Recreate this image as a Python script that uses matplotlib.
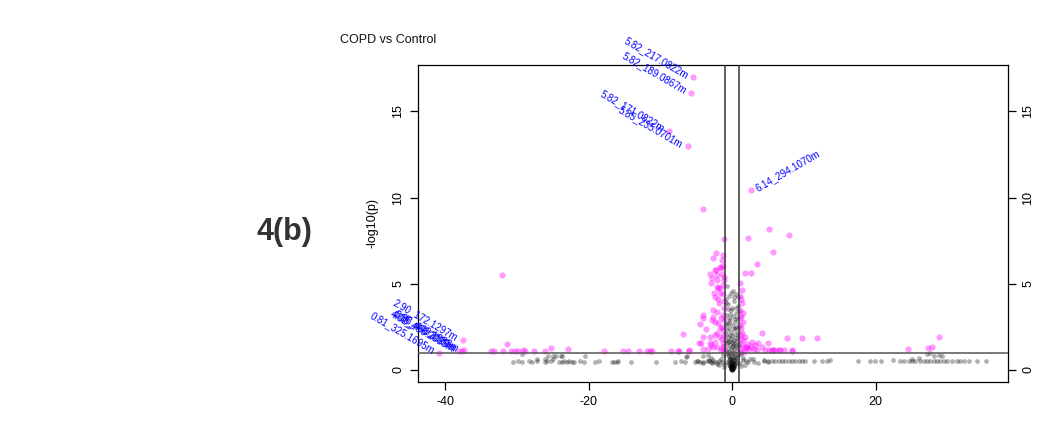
import matplotlib.pyplot as plt
import numpy as np

plt.rcParams["font.family"] = ["Liberation Sans", "DejaVu Sans"]
plt.rcParams["axes.unicode_minus"] = False

# log2 fold change / -log10(p) for features below the significance cut
ns_x = [
    # flat band on the left
    -30.5, -29.9, -29.3, -28.3, -27.9, -27.2, -26.1, -25.8, -25.2, -24.1,
    -23.7, -23.4, -23.0, -22.7, -22.3, -22.0, -21.2, -20.7, -19.1, -18.6,
    -16.8, -16.5, -15.9, -14.1, -10.6, -7.9, -7.1, -6.5, -4.9, -4.5,
    -4.0, -3.5, -3.0, -29.3, -25.6, -24.5, -23.8, -20.5, -6.3, -27.2,
    -26.1, -25.0, -25.0, -6.4, -23.75, -16.0, -5.2, -4.8, -4.1, -3.2,
    -2.85, -2.5, -2.15, -1.8, -1.45, -4.0, -3.4, -3.0,
    # flat band on the right
    4.37, 4.93, 5.53, 6.0, 6.46, 6.93, 7.39, 7.86, 8.33, 8.79,
    9.25, 9.72, 10.18, 11.34, 12.5, 13.2, 13.67, 17.5, 19.15, 19.94,
    20.74, 22.4, 23.43, 24.0, 24.6, 25.06, 25.52, 26.2, 26.7, 27.15,
    27.6, 28.1, 28.55, 29.0, 29.5, 29.9, 30.6, 31.3, 31.8, 32.3,
    32.96, 34.1, 35.4, 27.1, 27.6, 28.1, 28.8, 29.2, 25.06, 26.0,
    1.5, 2.2, 2.9, 3.6, 4.4, 5.0,
    # centre of the volcano
    -0.75, 0.1, -0.4, 0.6, -0.8, 0.3,
    -0.6, 0.8, -0.2, 0.5, -0.85, 0.1, -0.5, 0.9, 0.7,
    -0.3, 0.4, -0.7, 0.0, 0.6, -0.5, 0.2, -0.1, 0.8, -0.8, 0.35, -0.35,
    0.0, -0.6, 0.55, -0.2, 0.25, -0.45, 0.7, 0.05, -0.75, 0.4,
    -0.3, 0.15, -0.05, 0.85, -0.55, 0.3, -0.15, 0.6, -0.4, 0.1,
    -0.2, 0.45, -0.6, 0.0, 0.25, -0.35, 0.7, -0.1, 0.15, -0.5,
    0.35, 0.0, -0.25, 0.55, -0.05, 0.2, -0.4, 0.1, -0.15, 0.3,
    0.0, -0.3, 0.15, -0.1, 0.05, 0.25, -0.2, 0.0, 0.1, -0.05,
    0.05, 0.0, -0.1, 0.12, 0.0, -0.02, 0.03, -0.08, 0.18, -0.15,
    1.2, -1.3, 1.5, -1.6, 2.0, -2.1, 1.1, -1.1, 2.5, -2.6,
    3.0, -3.2, 1.8, -1.8, 1.3, -1.2,
    -0.9, 0.9, -0.65, 0.75, -0.45, 0.5, -0.25, 0.3, -0.1, 0.15,
    -0.7, 0.65, -0.5, 0.45, -0.3, 0.2, -0.15, 0.05, -0.05, 0.0,
    -0.9, 0.95, -0.8, 0.85, 0.6, -0.55, 0.4, -0.35, 0.25, -0.2,
    -0.6, 0.55, -0.7, 0.75, -0.9, 0.9, 0.0, -0.45, 0.35, 0.1,
]
ns_y = [
    0.48, 0.50, 0.47, 0.49, 0.48, 0.50, 0.47, 0.49, 0.52, 0.48,
    0.47, 0.50, 0.48, 0.49, 0.47, 0.48, 0.50, 0.47, 0.48, 0.49,
    0.48, 0.47, 0.50, 0.48, 0.47, 0.48, 0.49, 0.47, 0.50, 0.48,
    0.47, 0.49, 0.48, 0.94, 0.80, 0.80, 0.81, 0.80, 0.80, 0.65,
    0.62, 0.65, 0.81, 0.72, 0.81, 0.48, 0.45, 0.50, 0.42, 0.55,
    0.40, 0.48, 0.35, 0.52, 0.44, 0.80, 0.85, 0.70,
    0.52, 0.50, 0.53, 0.51, 0.52, 0.50, 0.53, 0.52, 0.51, 0.50,
    0.52, 0.53, 0.51, 0.52, 0.50, 0.52, 0.55, 0.52, 0.51, 0.52,
    0.50, 0.55, 0.52, 0.51, 0.53, 0.52, 0.50, 0.52, 0.53, 0.51,
    0.52, 0.50, 0.53, 0.52, 0.51, 0.52, 0.50, 0.52, 0.51, 0.52,
    0.50, 0.51, 0.52, 0.90, 0.96, 0.81, 0.87, 0.81, 0.62, 0.70,
    0.55, 0.45, 0.60, 0.40, 0.58, 0.48,
    4.85, 4.60, 4.30, 4.40, 4.10, 4.00,
    3.80, 3.70, 3.50, 3.30, 3.20, 3.10, 3.00, 3.40, 3.00,
    2.90, 2.80, 2.70, 2.60, 2.50, 2.40, 2.35, 2.20, 2.20, 2.10, 2.05, 2.00,
    1.95, 1.90, 1.85, 1.80, 1.75, 1.70, 1.65, 1.60, 1.55, 1.50,
    1.45, 1.40, 1.35, 1.30, 1.25, 1.20, 1.15, 1.10, 1.05, 1.00,
    0.95, 0.90, 0.85, 0.80, 0.75, 0.70, 0.68, 0.65, 0.60, 0.58,
    0.55, 0.50, 0.48, 0.45, 0.42, 0.40, 0.38, 0.35, 0.32, 0.30,
    0.28, 0.25, 0.22, 0.20, 0.18, 0.15, 0.14, 0.12, 0.10, 0.08,
    0.06, 0.05, 0.04, 0.03, 0.02, 0.01, 0.00, 0.12, 0.08, 0.06,
    0.90, 0.85, 0.70, 0.60, 0.50, 0.45, 0.40, 0.35, 0.60, 0.55,
    0.45, 0.50, 0.30, 0.28, 0.20, 0.18,
    1.10, 1.00, 0.95, 0.88, 0.78, 0.72, 0.62, 0.55, 0.46, 0.38,
    0.45, 0.40, 0.30, 0.26, 0.20, 0.16, 0.10, 0.09, 0.15, 0.24,
    2.60, 2.50, 3.90, 4.20, 3.60, 3.55, 2.95, 3.25, 4.20, 4.45,
    1.60, 1.40, 2.30, 1.95, 1.75, 1.50, 3.60, 2.70, 2.45, 1.55,
]

# features passing both cut-offs
sig_x = [
    -5.44, -5.72, -8.74, -6.18, 2.56, -37.5, -40.8, -38.0, -37.6, -37.4,
    -33.6, -33.2, -31.9, -31.3, -30.8, -30.3, -29.8, -29.1, -28.8, -27.6,
    -26.0, -25.3, -22.8, -17.9, -15.2, -14.5, -13.0, -11.9, -11.4, -11.1,
    -8.5, -7.6, -7.35, -6.0, -6.9, -4.46, -3.6, -4.4, -4.0, -3.1,
    -2.4, -4.6, -32.1,
    -4.0, -1.07, 2.19, 5.16, 7.86, 5.67, 3.44, 1.77, 2.65, 1.12,
    -2.27, -1.3, -2.7, -2.23, -1.58, -1.21, -3.07, -2.83, -2.13, -1.44,
    -1.2, -2.97, -2.0, -1.67, -2.37, -2.13, -1.67, -1.44, -2.04, -1.67,
    -2.37, -2.55, -2.6, -2.13, -4.09, -4.0, -2.6, -2.83, -2.37, -1.91,
    -1.44, -2.13, -1.67, -3.07, -1.21, -4.0, -2.7, -2.13, -1.44, -5.95,
    -1.15, -1.2, -1.3, -1.1, -1.25, -1.1, -1.35, -1.15, -1.6, -1.2,
    -1.8, -1.9, -1.5, -1.7, -2.4, -3.3, -2.9, -1.3, -1.25, -1.1,
    1.35, 1.2, 1.35, 1.49, 1.12, 4.14, 4.93, 7.63, 9.72, 11.8,
    8.33, 7.16, 6.46, 5.76, 5.07, 4.14, 3.67, 3.2, 2.75, 2.05,
    1.58, 1.35, 4.6, 5.53, 6.0, 6.6, 8.37,
    1.1, 1.2, 1.3, 1.15, 1.4, 1.6, 1.9, 2.3, 2.6, 3.0,
    3.5, 1.1, 1.25, 1.7, 2.2, 1.1, 1.25, 1.15, 1.5, 1.8,
    24.5, 27.3, 27.8, 28.8,
]
sig_y = [
    16.98, 16.08, 13.88, 12.99, 10.42, 1.74, 1.00, 1.12, 1.10, 1.13,
    1.12, 1.10, 1.10, 1.49, 1.12, 1.12, 1.12, 1.15, 1.10, 1.12,
    1.12, 1.26, 1.22, 1.12, 1.12, 1.12, 1.12, 1.12, 1.12, 1.12,
    1.12, 1.12, 1.12, 1.10, 2.08, 2.66, 2.35, 1.58, 1.20, 1.55,
    2.00, 1.58, 5.53,
    9.32, 7.57, 7.66, 8.16, 7.84, 6.81, 6.12, 5.63, 5.63, 5.06,
    6.79, 6.66, 6.47, 5.79, 5.92, 6.02, 5.56, 5.31, 5.21, 5.56,
    5.20, 5.06, 4.73, 4.73, 5.79, 5.50, 5.98, 6.37, 4.82, 4.44,
    4.24, 4.44, 3.47, 3.38, 3.18, 3.03, 3.09, 2.90, 2.80, 2.70,
    2.51, 2.12, 1.93, 1.93, 1.55, 1.93, 1.35, 1.35, 1.26, 1.16,
    4.00, 3.60, 3.20, 2.90, 2.30, 2.00, 1.80, 1.40, 1.15, 1.10,
    3.90, 4.10, 3.00, 2.40, 1.60, 1.20, 1.45, 4.40, 4.90, 5.40,
    4.63, 4.09, 3.86, 3.32, 2.99, 2.12, 1.58, 1.83, 1.83, 1.83,
    1.16, 1.16, 1.16, 1.16, 1.16, 1.35, 1.55, 1.45, 1.64, 1.35,
    1.74, 2.12, 1.15, 1.15, 1.15, 1.15, 1.10,
    2.60, 2.40, 2.00, 1.80, 1.50, 1.35, 1.25, 1.20, 1.30, 1.20,
    1.15, 1.20, 1.05, 1.05, 1.50, 3.50, 3.10, 4.30, 2.80, 1.90,
    1.20, 1.26, 1.31, 1.89,
]

# annotated features (retention time _ m/z)
lab_x = [-5.44, -5.72, -8.74, -6.18, 2.56, -37.5, -38.0, -37.6, -37.4, -40.8]
lab_y = [16.98, 16.08, 13.88, 12.99, 10.42, 1.74, 1.12, 1.10, 1.13, 1.00]
lab_text = [
    "5.82_217.0822m", "5.82_189.0867m", "5.82_171.0822m", "5.85_235.0701m",
    "6.14_294.1070m", "2.90_172.1297m", "4.02_466.2035m", "4.05_468.2029m",
    "3.98_449.1988m", "0.81_325.1695m",
]
lab_right = [False, False, False, False, True, False, False, False, False, False]

fc_cut = 1.0
p_cut = 1.0

fig = plt.figure(figsize=(10.39, 4.26), dpi=100)
ax = fig.add_axes([0.4026, 0.104, 0.5679, 0.7445])

ax.scatter(ns_x, ns_y, s=12, color="black", alpha=0.3, linewidths=0, zorder=2)
ax.scatter(sig_x, sig_y, s=20, color="#ff00ff", alpha=0.4, linewidths=0, zorder=3)

ax.axvline(-fc_cut, color="#333333", lw=1.1, zorder=4)
ax.axvline(fc_cut, color="#333333", lw=1.1, zorder=4)
ax.axhline(p_cut, color="#555555", lw=1.1, zorder=4)

for x, y, t, right in zip(lab_x, lab_y, lab_text, lab_right):
    if right:
        ax.annotate(t, (x, y), xytext=(4, 1), textcoords="offset points",
                    rotation=30, rotation_mode="anchor", ha="left", va="center",
                    fontsize=7, color="blue", zorder=5)
    else:
        ax.annotate(t, (x, y), xytext=(-4, 1), textcoords="offset points",
                    rotation=-30, rotation_mode="anchor", ha="right", va="center",
                    fontsize=7, color="blue", zorder=5)

ax.set_xlim(-43.72, 38.48)
ax.set_ylim(-0.69, 17.72)
ax.set_xticks([-40, -20, 0, 20])
ax.set_yticks([0, 5, 10, 15])
ax.tick_params(direction="out", length=6, width=0.9, labelsize=9,
               right=True, labelright=True, pad=4)
for lbl in ax.get_yticklabels():
    lbl.set_rotation(90)
    lbl.set_va("center")
for s in ax.spines.values():
    s.set_linewidth(0.9)
ax.set_ylabel("-log10(p)", fontsize=9, labelpad=10)

fig.text(340 / 1039, 1 - 40 / 426, "COPD vs Control", fontsize=9,
         ha="left", va="center", color="#111111")
fig.text(284 / 1039, 1 - 232 / 426, "4(b)", fontsize=22, fontweight="bold",
         ha="center", va="center", color="#333333")

fig.savefig("out.png", dpi=100)
